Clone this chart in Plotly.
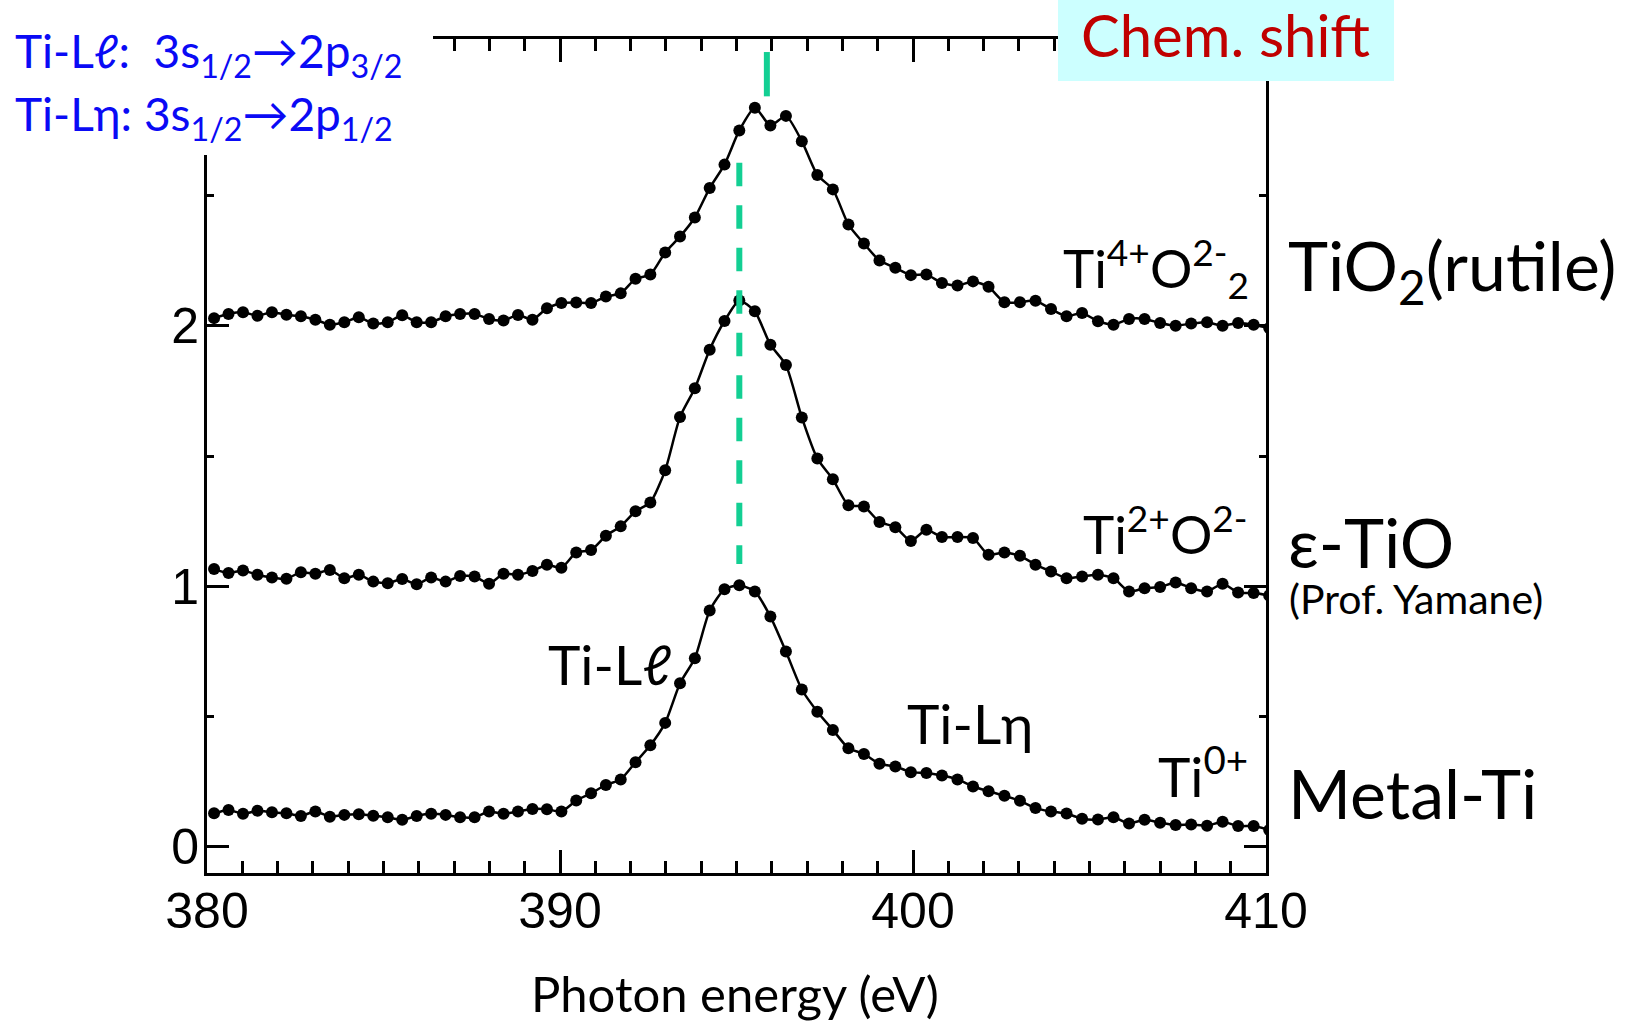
import plotly.graph_objects as go

# ---------------- data ----------------
energy_ev = [380.20, 380.61, 381.02, 381.43, 381.84, 382.25, 382.66, 383.07, 383.48, 383.89,
             384.30, 384.71, 385.12, 385.53, 385.94, 386.35, 386.76, 387.17, 387.58, 387.99,
             388.40, 388.81, 389.22, 389.63, 390.04, 390.46, 390.88, 391.30, 391.72, 392.14,
             392.56, 392.98, 393.40, 393.82, 394.24, 394.66, 395.08, 395.52, 395.96, 396.40,
             396.85, 397.29, 397.73, 398.17, 398.61, 399.05, 399.50, 399.94, 400.38, 400.82,
             401.26, 401.70, 402.14, 402.59, 403.03, 403.47, 403.91, 404.35, 404.79, 405.24,
             405.68, 406.12, 406.56, 407.00, 407.44, 407.88, 408.33, 408.77, 409.21, 409.65,
             410.09]

metal_ti = [0.129, 0.142, 0.127, 0.139, 0.133, 0.129, 0.119, 0.136, 0.116, 0.123,
            0.125, 0.120, 0.114, 0.104, 0.119, 0.127, 0.123, 0.114, 0.114, 0.136,
            0.127, 0.136, 0.146, 0.145, 0.136, 0.178, 0.206, 0.238, 0.259, 0.325,
            0.390, 0.476, 0.628, 0.724, 0.907, 0.989, 1.004, 0.980, 0.884, 0.750,
            0.604, 0.519, 0.449, 0.379, 0.357, 0.319, 0.309, 0.287, 0.284, 0.274,
            0.259, 0.232, 0.214, 0.196, 0.177, 0.149, 0.136, 0.128, 0.108, 0.105,
            0.114, 0.090, 0.104, 0.093, 0.084, 0.086, 0.081, 0.097, 0.080, 0.080,
            0.065]

eps_tio = [1.066, 1.051, 1.061, 1.044, 1.034, 1.029, 1.054, 1.048, 1.063, 1.031,
           1.044, 1.018, 1.012, 1.028, 1.008, 1.034, 1.018, 1.040, 1.038, 1.010,
           1.048, 1.044, 1.059, 1.083, 1.071, 1.130, 1.139, 1.194, 1.230, 1.288,
           1.322, 1.445, 1.650, 1.760, 1.908, 2.018, 2.097, 2.055, 1.927, 1.849,
           1.648, 1.490, 1.411, 1.311, 1.306, 1.247, 1.227, 1.174, 1.217, 1.189,
           1.189, 1.185, 1.121, 1.130, 1.117, 1.083, 1.057, 1.031, 1.038, 1.044,
           1.031, 0.980, 0.993, 0.997, 1.015, 0.993, 0.980, 1.010, 0.976, 0.974,
           0.965]

tio2_rutile = [2.029, 2.045, 2.052, 2.038, 2.052, 2.042, 2.036, 2.023, 2.004, 2.013,
               2.032, 2.008, 2.013, 2.040, 2.013, 2.013, 2.036, 2.045, 2.045, 2.026,
               2.020, 2.041, 2.023, 2.067, 2.087, 2.089, 2.087, 2.112, 2.124, 2.180,
               2.196, 2.281, 2.342, 2.415, 2.528, 2.618, 2.749, 2.836, 2.768, 2.805,
               2.708, 2.578, 2.523, 2.388, 2.315, 2.250, 2.222, 2.194, 2.196, 2.164,
               2.154, 2.170, 2.149, 2.090, 2.090, 2.096, 2.064, 2.036, 2.049, 2.017,
               2.004, 2.026, 2.026, 2.010, 2.000, 2.008, 2.013, 2.000, 2.010, 2.004,
               1.991]

x_ticks = [380, 390, 400, 410]
x_minor = [381, 382, 383, 384, 385, 386, 387, 388, 389,
           391, 392, 393, 394, 395, 396, 397, 398, 399,
           401, 402, 403, 404, 405, 406, 407, 408, 409]
y_ticks = [0, 1, 2]
y_minor = [0.5, 1.5, 2.5]

ti_ll_metal_peak = 395.08          # dashed reference line
ti_ll_metal_span = [1.086, 2.625]
tio2_peak = 395.86                 # short marker above TiO2
tio2_peak_span = [2.88, 3.05]

# ---------------- figure ----------------
L, R, T, B = 207, 369, 39, 150
W, H = 1635, 1023
PW, PH = W - L - R, H - T - B


def px(xp):
    return (xp - L) / PW


def py(yp):
    return (H - B - yp) / PH


fig = go.Figure()
for ys in [metal_ti, eps_tio, tio2_rutile]:
    fig.add_trace(go.Scatter(
        x=energy_ev, y=ys, mode="lines+markers",
        line=dict(color="black", width=2.5, shape="spline", smoothing=0.6),
        marker=dict(color="black", size=12),
        showlegend=False, hoverinfo="skip"))

green = "#13CF93"
fig.add_shape(type="line", xref="x", yref="y",
              x0=ti_ll_metal_peak, x1=ti_ll_metal_peak,
              y0=ti_ll_metal_span[1], y1=ti_ll_metal_span[0],
              line=dict(color=green, width=6, dash="23.5px,19px"), layer="above")
fig.add_shape(type="line", xref="x", yref="y",
              x0=tio2_peak, x1=tio2_peak,
              y0=tio2_peak_span[1], y1=tio2_peak_span[0],
              line=dict(color=green, width=6), layer="above")

# white area covering the top-left corner of the frame (behind the blue text)
fig.add_shape(type="rect", xref="paper", yref="paper",
              x0=-0.5, x1=px(433), y0=py(155), y1=1.2,
              fillcolor="white", line=dict(width=0), layer="above")
# cyan box behind "Chem. shift"
fig.add_shape(type="rect", xref="paper", yref="paper",
              x0=px(1058), x1=px(1394), y0=py(81), y1=1.2,
              fillcolor="#CCFFFF", line=dict(width=0), layer="above")

FONT = "Lato"


def ann(text, x, y, size, xanchor="left", color="black", family=FONT):
    fig.add_annotation(text=text, x=px(x), y=py(y), xref="paper", yref="paper",
                       xanchor=xanchor, yanchor="middle", showarrow=False,
                       font=dict(family=family, size=size, color=color))


blue = "#0A0AF5"
ann("Ti-Lℓ:  3s<sub>1/2</sub>→2p<sub>3/2</sub>", 13, 54, 46, color=blue)
ann("Ti-Lη: 3s<sub>1/2</sub>→2p<sub>1/2</sub>", 13, 117, 46, color=blue)
ann("Chem. shift", 1225, 34, 58, xanchor="center", color="#C00000")

ann("Ti<sup>4+</sup>O<sup>2-</sup><sub>2</sub>", 1251, 268, 53, xanchor="right")
ann("TiO<sub>2</sub>(rutile)", 1286, 269, 68)
ann("Ti<sup>2+</sup>O<sup>2-</sup>", 1250, 530, 53, xanchor="right")
ann("ε-TiO", 1286, 541, 68)
ann("(Prof. Yamane)", 1287, 598, 41)
ann("Ti-Lℓ", 546, 664, 55)
ann("Ti-Lη", 905, 723, 55)
ann("Ti<sup>0+</sup>", 1156, 772, 55)
ann("Metal-Ti", 1286, 792, 68)
ann("Photon energy (eV)", 735, 993, 49, xanchor="center")

axis_common = dict(showline=True, linecolor="black", linewidth=3, mirror="ticks",
                   ticks="inside", tickcolor="black", tickwidth=2.5,
                   showgrid=False, zeroline=False,
                   tickfont=dict(family="Liberation Sans", size=50, color="black"))

fig.update_xaxes(range=[380, 410], tickmode="array", tickvals=x_ticks, ticklen=23,
                 ticklabelstandoff=-8,
                 minor=dict(tickmode="array", tickvals=x_minor, ticks="inside",
                            ticklen=12, tickwidth=2.5, tickcolor="black"),
                 **axis_common)
fig.update_yaxes(range=[-0.1, 3.1], tickmode="array", tickvals=y_ticks, ticklen=22,
                 ticklabelstandoff=-5,
                 minor=dict(tickmode="array", tickvals=y_minor, ticks="inside",
                            ticklen=7, tickwidth=2.5, tickcolor="black"),
                 **axis_common)

fig.update_layout(width=W, height=H, margin=dict(l=L, r=R, t=T, b=B),
                  paper_bgcolor="white", plot_bgcolor="white", showlegend=False)

fig.write_html("out.html")
